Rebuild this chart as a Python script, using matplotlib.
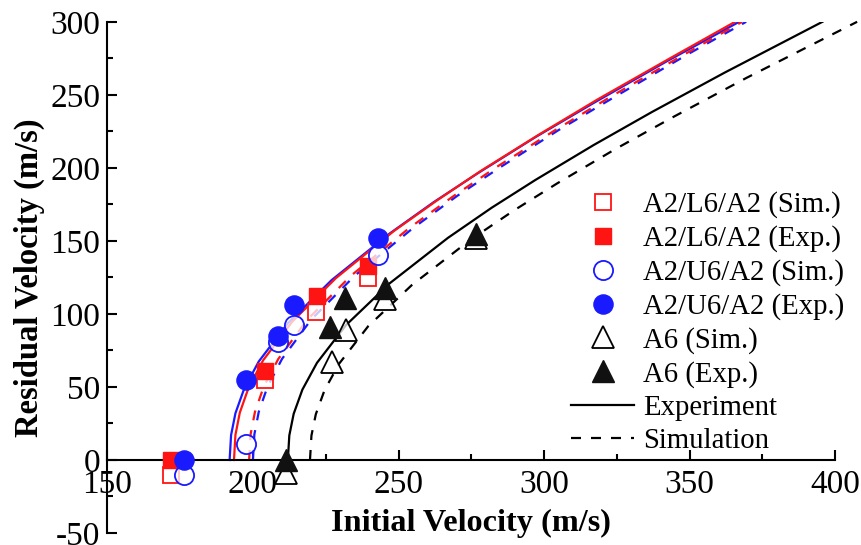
import matplotlib
matplotlib.use("Agg")
import matplotlib.pyplot as plt
from matplotlib.lines import Line2D
from matplotlib.ticker import MultipleLocator

RED = '#ff1414'
BLUE = '#1a1aff'
BLACK = '#000000'

# measured points
l6_sim_vi = [172, 204, 221.5, 239.5]
l6_sim_vr = [-10, 55, 101.5, 124.5]
l6_exp_vi = [172, 204, 222, 239.5]
l6_exp_vr = [0, 61, 112, 133]
u6_sim_vi = [176.5, 197.5, 208.5, 214, 243]
u6_sim_vr = [-10, 11, 81, 92.5, 140]
u6_exp_vi = [176.5, 197.5, 208.7, 214, 243]
u6_exp_vr = [0, 55, 85, 106, 152]
a6_sim_vi = [211.5, 227, 232, 245.5, 276.5]
a6_sim_vr = [-9, 67, 89, 110, 152]
a6_exp_vi = [211.5, 226.5, 231.5, 245.5, 276.5]
a6_exp_vr = [0, 91, 111, 118, 155]

# fitted curves
l6_exp_fit_vi = [193.5, 194, 195.5, 198.5, 203.5, 213.5, 228.5, 248.5, 263.5, 278.5, 298.5, 318.5, 343.5, 365.6]
l6_exp_fit_vr = [0, 17.2, 32.4, 49.4, 68.2, 94.7, 124.5, 156.9, 178.1, 198.2, 223.1, 247.0, 275.3, 300]
l6_sim_fit_vi = [198.7, 199.2, 200.7, 203.7, 208.7, 218.7, 233.7, 253.7, 268.7, 283.7, 303.7, 323.7, 348.7, 368]
l6_sim_fit_vr = [0, 17.5, 32.9, 50.1, 69.1, 96.1, 126.2, 158.8, 180.4, 200.6, 225.7, 249.7, 278.3, 300]
u6_exp_fit_vi = [192, 192.5, 194, 197, 202, 212, 227, 247, 262, 277, 297, 317, 342, 367]
u6_exp_fit_vr = [0, 17.0, 32.0, 48.8, 67.4, 93.6, 123.1, 155.1, 176.4, 196.0, 221.0, 244.4, 272.8, 300]
u6_sim_fit_vi = [200, 200.5, 202, 205, 210, 220, 235, 255, 270, 285, 305, 325, 350, 369.4]
u6_sim_fit_vr = [0, 17.5, 32.9, 50.1, 69.2, 96.1, 126.2, 158.8, 180.6, 200.5, 225.9, 249.5, 278.5, 300]
a6_exp_fit_vi = [212, 212.5, 214, 217, 222, 232, 247, 267, 282, 297, 317, 337, 362, 395.6]
a6_exp_fit_vr = [0, 16.8, 31.6, 48.2, 66.5, 92.4, 121.0, 152.1, 172.7, 191.7, 215.6, 238.2, 265.2, 300]
a6_sim_fit_vi = [219.6, 220.1, 221.6, 224.6, 229.6, 239.6, 254.6, 274.6, 289.6, 304.6, 324.6, 344.6, 369.6, 407.5]
a6_sim_fit_vr = [0, 16.7, 31.3, 47.8, 65.9, 91.6, 119.8, 150.6, 170.8, 189.5, 213.0, 235.1, 261.7, 300]

legend_labels = ['A2/L6/A2 (Sim.)', 'A2/L6/A2 (Exp.)', 'A2/U6/A2 (Sim.)', 'A2/U6/A2 (Exp.)',
                 'A6 (Sim.)', 'A6 (Exp.)', 'Experiment', 'Simulation']

plt.rcParams['font.family'] = ['Liberation Serif', 'DejaVu Serif']
plt.rcParams['axes.unicode_minus'] = False

fig = plt.figure(figsize=(8.62, 5.45), dpi=100)
ax = fig.add_axes([0.1245, 0.022, 0.8445, 0.938])

lw = 1.6
dash = (4.5, 4.5)
ax.plot(u6_exp_fit_vi, u6_exp_fit_vr, color=BLUE, lw=lw, zorder=2)
ax.plot(l6_exp_fit_vi, l6_exp_fit_vr, color=RED, lw=lw, zorder=2)
ax.plot(u6_sim_fit_vi, u6_sim_fit_vr, color=BLUE, lw=lw, dashes=dash, zorder=2)
ax.plot(l6_sim_fit_vi, l6_sim_fit_vr, color=RED, lw=lw, dashes=dash, zorder=2)
ax.plot(a6_exp_fit_vi, a6_exp_fit_vr, color=BLACK, lw=lw, zorder=2)
ax.plot(a6_sim_fit_vi, a6_sim_fit_vr, color=BLACK, lw=lw, dashes=dash, zorder=2, clip_on=False)

open_face = (1, 1, 1, 0.75)
sq, circ, tri = 11.5, 13.8, 15.5
ax.plot(l6_sim_vi, l6_sim_vr, 's', ms=sq, mfc=open_face, mec=RED, mew=1.3, zorder=3, clip_on=False)
ax.plot(l6_exp_vi, l6_exp_vr, 's', ms=sq, mfc=RED, mec=RED, zorder=3, clip_on=False)
ax.plot(u6_sim_vi, u6_sim_vr, 'o', ms=circ, mfc=open_face, mec=BLUE, mew=1.3, zorder=4, clip_on=False)
ax.plot(u6_exp_vi, u6_exp_vr, 'o', ms=circ, mfc=BLUE, mec=BLUE, zorder=4, clip_on=False)
ax.plot(a6_sim_vi, a6_sim_vr, '^', ms=tri, mfc=open_face, mec=BLACK, mew=1.3, zorder=3, clip_on=False)
ax.plot(a6_exp_vi, a6_exp_vr, '^', ms=tri, mfc='#111111', mec='#111111', zorder=3, clip_on=False)

ax.set_xlim(150, 400)
ax.set_ylim(-50, 300)

ax.spines['top'].set_visible(False)
ax.spines['right'].set_visible(False)
ax.spines['bottom'].set_position(('data', 0))
for s in ['left', 'bottom']:
    ax.spines[s].set_linewidth(1.5)

ax.xaxis.set_major_locator(MultipleLocator(50))
ax.xaxis.set_minor_locator(MultipleLocator(25))
ax.yaxis.set_major_locator(MultipleLocator(50))
ax.yaxis.set_minor_locator(MultipleLocator(25))
ax.tick_params(which='both', direction='in', width=1.5, labelsize=24)
ax.tick_params(which='major', length=7)
ax.tick_params(which='minor', length=4)
ax.tick_params(axis='x', pad=7)
ax.tick_params(axis='y', pad=5)

ax.set_xlabel('Initial Velocity (m/s)', fontsize=23.2, fontweight='bold')
ax.xaxis.set_label_coords(0.5, 0.048)
ax.set_ylabel('Residual Velocity (m/s)', fontsize=23.5, fontweight='bold')
ax.yaxis.set_label_coords(-0.085, 0.5)

handles = [
    Line2D([], [], ls='none', marker='s', ms=sq, mfc='white', mec=RED, mew=1.3),
    Line2D([], [], ls='none', marker='s', ms=sq, mfc=RED, mec=RED),
    Line2D([], [], ls='none', marker='o', ms=circ, mfc='white', mec=BLUE, mew=1.3),
    Line2D([], [], ls='none', marker='o', ms=circ, mfc=BLUE, mec=BLUE),
    Line2D([], [], ls='none', marker='^', ms=tri, mfc='white', mec=BLACK, mew=1.3),
    Line2D([], [], ls='none', marker='^', ms=tri, mfc='#111111', mec='#111111'),
    Line2D([], [], color=BLACK, lw=lw),
    Line2D([], [], color=BLACK, lw=lw, dashes=dash),
]
ax.legend(handles, legend_labels, loc='upper left', bbox_to_anchor=(0.637, 0.668),
          frameon=False, fontsize=20.7, handlelength=2.2, handletextpad=0.32,
          labelspacing=0.24, borderpad=0, borderaxespad=0)

fig.savefig('out.png', dpi=100)
